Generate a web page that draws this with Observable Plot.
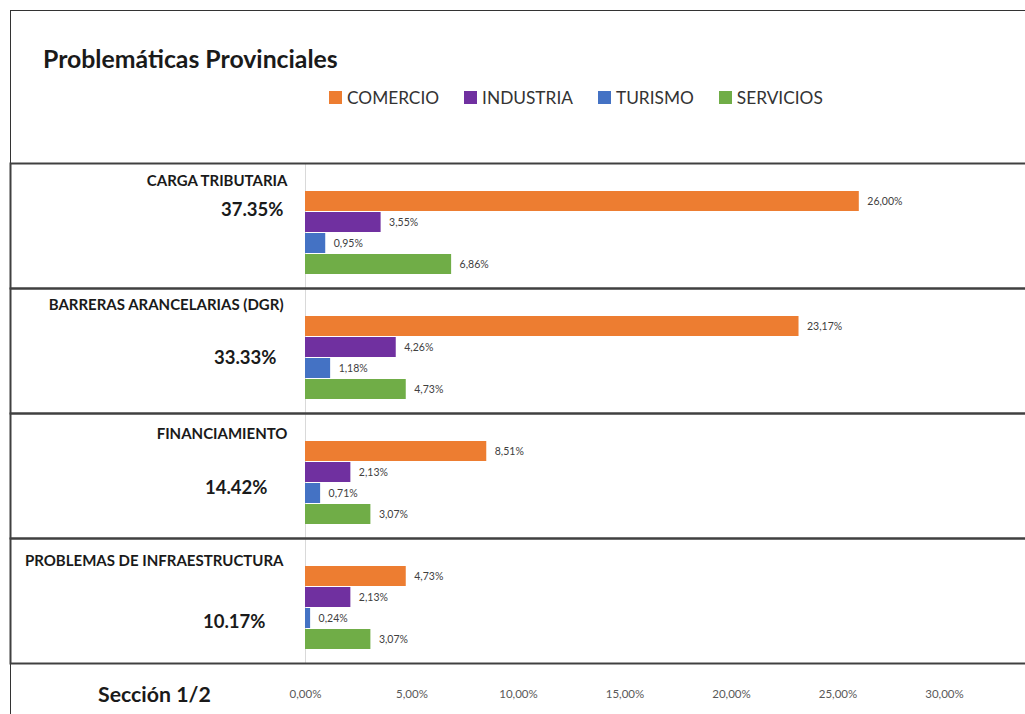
<!DOCTYPE html>
<html>
<head>
<meta charset="utf-8">
<script src="https://cdn.jsdelivr.net/npm/d3@7"></script>
<script src="https://cdn.jsdelivr.net/npm/@observablehq/plot@0.6"></script>
<style>
  html, body { margin: 0; padding: 0; background: #fff; }
  body { width: 1025px; height: 714px; overflow: hidden; position: relative; font-family: Lato, "Open Sans", sans-serif; }
  #box { position: absolute; left: 10px; top: 10px; width: 1030px; height: 730px; border: 1.5px solid #333; box-sizing: border-box; }
  #title { position: absolute; left: 43px; top: 44px; font-weight: bold; font-size: 24.8px; color: #1a1a1a; }
  #legend { position: absolute; left: 329px; top: 87px; display: flex; font-size: 17.3px; color: #333; }
  #legend .item { display: flex; align-items: center; margin-right: 25px; }
  #legend .sw { width: 13px; height: 13px; margin-right: 5px; }
  #section { position: absolute; left: 98px; top: 681px; font-weight: bold; font-size: 21.3px; color: #1a1a1a; }
  #chart { position: absolute; left: 0; top: 163px; }
</style>
</head>
<body>
<div id="box"></div>
<div id="title">Problemáticas Provinciales</div>
<div id="legend"></div>
<div id="chart"></div>
<div id="section">Sección 1/2</div>
<script>
// ---- data ----
const categories = ["CARGA TRIBUTARIA", "BARRERAS ARANCELARIAS (DGR)", "FINANCIAMIENTO", "PROBLEMAS DE INFRAESTRUCTURA"];
const totals = ["37.35%", "33.33%", "14.42%", "10.17%"];
const series = ["COMERCIO", "INDUSTRIA", "TURISMO", "SERVICIOS"];
const comercio  = [26.00, 23.17, 8.51, 4.73];
const industria = [3.55, 4.26, 2.13, 2.13];
const turismo   = [0.95, 1.18, 0.71, 0.24];
const servicios = [6.86, 4.73, 3.07, 3.07];
const xTicks = [0, 5, 10, 15, 20, 25, 30];

// ---- styles / layout ----
const colors = ["#ED7D31", "#7030A0", "#4472C4", "#70AD47"];
const catDy = [18, 17, 21, 23];
const catDx = [-18, -22, -18, -22];
const totalDy = [47, 70, 75, 84];
const totalDx = [-22, -29, -38, -40];

const seriesValues = [comercio, industria, turismo, servicios];
const rows = categories.flatMap((c, i) => series.map((s, j) => ({category: c, series: s, value: seriesValues[j][i]})));
const fmt = v => v.toFixed(2).replace(".", ",") + "%";

// legend
const legend = document.getElementById("legend");
series.forEach((s, j) => {
  const it = document.createElement("div");
  it.className = "item";
  it.innerHTML = `<span class="sw" style="background:${colors[j]}"></span><span>${s}</span>`;
  legend.appendChild(it);
});

const labelMarks = categories.flatMap((c, i) => [
  Plot.text([c], {fy: d => d, text: d => d, frameAnchor: "top-left", textAnchor: "end", lineAnchor: "middle",
    dx: catDx[i], dy: catDy[i], fontWeight: "bold", fontSize: 15, fill: "#1a1a1a"}),
  Plot.text([totals[i]], {fy: () => c, text: d => d, frameAnchor: "top-left", textAnchor: "end", lineAnchor: "middle",
    dx: totalDx[i], dy: totalDy[i], fontWeight: "bold", fontSize: 18.5, fill: "#1a1a1a"})
]);

const axisOpts = {ticks: xTicks, tickFormat: fmt, tickSize: 0, tickPadding: 26, label: null};
const hasAxisMark = typeof Plot.axisX === "function";
const axisMarks = hasAxisMark ? [Plot.axisX({...axisOpts, fontSize: 11.5, fill: "#595959"})] : [];

const chart = Plot.plot({
  width: 1025,
  height: 551,
  marginLeft: 305,
  marginRight: 0,
  marginTop: 0,
  marginBottom: 51,
  style: {fontFamily: "Lato, 'Open Sans', sans-serif", background: "transparent", overflow: "visible"},
  x: {domain: [0, 720 / 21.3], ...axisOpts},
  y: {domain: series, paddingInner: 0.05, paddingOuter: 0, insetTop: 26, insetBottom: 13, axis: null},
  fy: {domain: categories, padding: 0, axis: null, label: null},
  color: {domain: series, range: colors},
  marks: [
    Plot.ruleX([0], {stroke: "#d9d9d9", strokeWidth: 1}),
    Plot.barX(rows, {fy: "category", y: "series", x: "value", fill: "series"}),
    Plot.text(rows, {fy: "category", y: "series", x: "value", text: d => fmt(d.value), textAnchor: "start", dx: 8, fontSize: 10.5, fill: "#404040"}),
    ...labelMarks,
    Plot.frame({stroke: "#404040", strokeWidth: 2, insetLeft: -295, insetRight: -10}),
    ...axisMarks
  ]
});
document.getElementById("chart").appendChild(chart);
</script>
</body>
</html>
